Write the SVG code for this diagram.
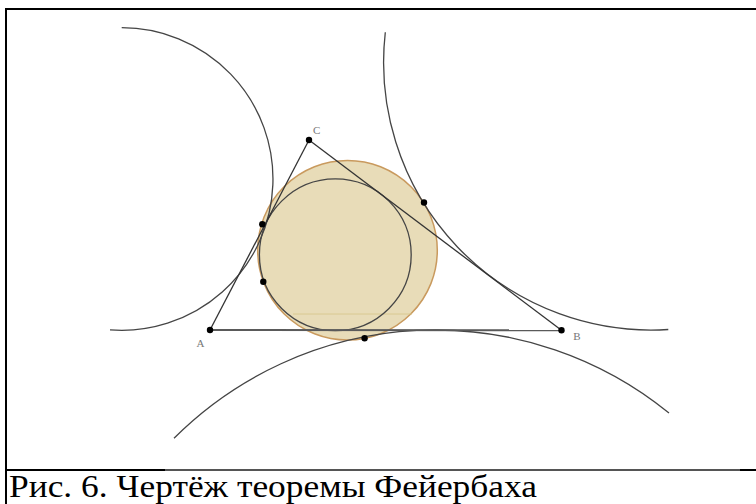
<svg xmlns="http://www.w3.org/2000/svg" width="756" height="504" viewBox="0 0 756 504">
<style>
.frame{stroke:#000;stroke-width:2;fill:none}
.arc{fill:none;stroke:#454545;stroke-width:1.3}
.side{fill:none;stroke:#333;stroke-width:1.3}
.base{fill:none;stroke:#5a5a5a;stroke-width:1.9}
.pt{fill:#000}
.lbl{font-family:"Liberation Serif","DejaVu Serif",serif;font-size:11px;fill:#777;text-anchor:middle}
.cap{font-family:"Liberation Serif","Times New Roman",serif;font-size:32px;fill:#000}
</style>
<rect width="756" height="504" fill="#fff"/>
<g id="frame">
<line class="frame" x1="6" y1="9" x2="756" y2="9"/>
<line class="frame" x1="6" y1="8" x2="6" y2="504"/>
<line class="frame" x1="6" y1="470" x2="756" y2="470"/>
<line x1="165" y1="470" x2="740" y2="470" stroke="#555" stroke-width="2"/>
</g>
<g id="nine-point-circle">
<circle cx="347.5" cy="250.3" r="89.8" fill="#e8dcb8" stroke="#c99a5e" stroke-width="1.5"/>
<line x1="293" y1="314" x2="412" y2="314" stroke="#d6c488" stroke-width="0.8"/>
</g>
<g id="incircle">
<circle class="arc" cx="335.3" cy="254.8" r="75.9"/>
</g>
<g id="excircle-a">
<path class="arc" d="M385.3 32.3 A267.7 267.7 0 0 0 668.3 329.5"/>
</g>
<g id="excircle-b">
<path class="arc" d="M121.7 27.7 A151.3 151.3 0 1 1 110 329.85"/>
</g>
<g id="excircle-c">
<path class="arc" d="M174 438.2 A370 370 0 0 1 669 413"/>
</g>
<g id="triangle">
<line class="base" x1="210" y1="330" x2="561.5" y2="330.3"/>
<line class="side" x1="561.5" y1="330.3" x2="309" y2="140"/>
<line class="side" x1="309" y1="140" x2="210" y2="330"/>
</g>
<g id="points">
<circle class="pt" cx="210" cy="330" r="3.2"/>
<circle class="pt" cx="561.5" cy="330.3" r="3.2"/>
<circle class="pt" cx="309" cy="140" r="3.2"/>
<circle class="pt" cx="263.3" cy="281.7" r="3.2"/>
<circle class="pt" cx="262.3" cy="224.3" r="3.2"/>
<circle class="pt" cx="424" cy="202.5" r="3.2"/>
<circle class="pt" cx="364.6" cy="338.3" r="3.2"/>
</g>
<g id="labels">
<text class="lbl" x="316.7" y="133.5">C</text>
<text class="lbl" x="200.5" y="347">A</text>
<text class="lbl" x="577" y="340">B</text>
</g>
<g id="caption">
<text class="cap" x="9" y="497" textLength="528" lengthAdjust="spacingAndGlyphs">Рис. 6. Чертёж теоремы Фейербаха</text>
</g>
</svg>
